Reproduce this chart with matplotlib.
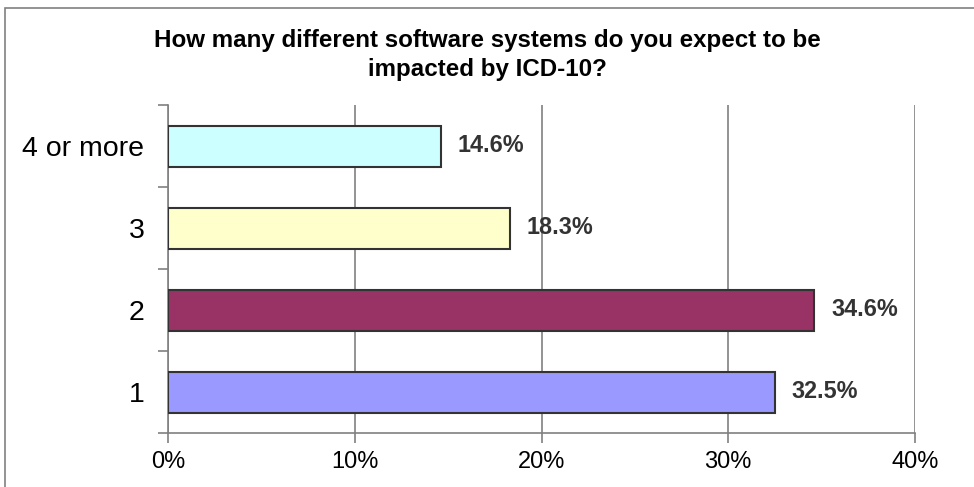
import matplotlib
matplotlib.use("Agg")
import matplotlib.pyplot as plt
from matplotlib.patches import Rectangle
from matplotlib.ticker import FuncFormatter, FixedLocator

categories = ["1", "2", "3", "4 or more"]
shares = [32.5, 34.6, 18.3, 14.6]
bar_colors = ["#9999FF", "#993366", "#FFFFCC", "#CCFFFF"]
x_ticks = [0, 10, 20, 30, 40]
title = "How many different software systems do you expect to be\nimpacted by ICD-10?"

plt.rcParams['font.family'] = ['Liberation Sans', 'DejaVu Sans']

fig = plt.figure(figsize=(9.74, 4.87), dpi=100)
ax = fig.add_axes([168/974, 1-433/487, 747/974, 328/487])

pos = range(len(categories))
ax.barh(pos, shares, height=0.5, color=bar_colors, edgecolor="#333333", linewidth=1.5, zorder=3)
for p, v in zip(pos, shares):
    ax.text(v + 0.9, p, "%.1f%%" % v, va="center", ha="left", fontsize=16.8,
            fontweight="bold", color="#333333")

ax.set_xlim(0, 40)
ax.set_ylim(-0.5, 3.5)
ax.set_xticks(x_ticks)
ax.xaxis.set_major_formatter(FuncFormatter(lambda v, _: "%d%%" % v))
ax.set_yticks(list(pos))
ax.set_yticklabels(categories)
ax.yaxis.set_minor_locator(FixedLocator([-0.5, 0.5, 1.5, 2.5, 3.5]))
ax.tick_params(axis="y", which="major", length=0, pad=17, labelsize=20.5)
ax.tick_params(axis="y", which="minor", length=7, color="#808080", width=1.2)
ax.tick_params(axis="x", length=7, color="#808080", width=1.2, labelsize=17, pad=6)

ax.grid(axis="x", color="#808080", linewidth=1.2, zorder=0)
for s in ["top", "right"]:
    ax.spines[s].set_visible(False)
for s in ["left", "bottom"]:
    ax.spines[s].set_color("#808080")
    ax.spines[s].set_linewidth(1.2)

fig.text(0.5, 1-55/487, title, ha="center", va="center", fontsize=17.4,
         fontweight="bold", linespacing=1.37)

fig.patches.append(Rectangle((5/974, -0.1), 1.2, 1.1 - 8/487, transform=fig.transFigure,
                             fill=False, edgecolor="#808080", linewidth=1.2))

fig.savefig("out.png", dpi=100)
